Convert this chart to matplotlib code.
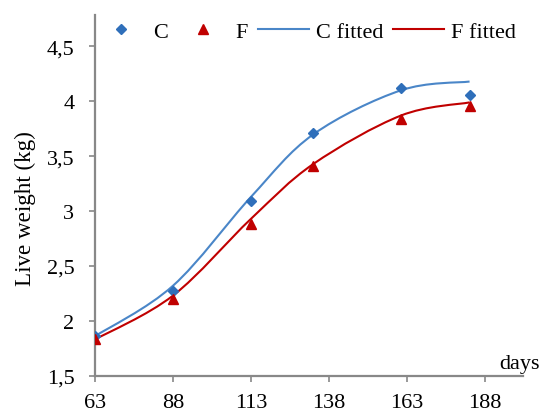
import numpy as np
import matplotlib
matplotlib.use("Agg")
import matplotlib.pyplot as plt
from matplotlib.path import Path
from matplotlib.patches import PathPatch
from matplotlib.lines import Line2D
from matplotlib.ticker import FuncFormatter

plt.rcParams['font.family'] = ['Liberation Serif', 'DejaVu Serif']
plt.rcParams['font.size'] = 16

# measured points
days = [63, 88, 113, 133, 161, 183]
c_obs = [1.86, 2.27, 3.09, 3.71, 4.12, 4.06]
f_obs = [1.83, 2.20, 2.88, 3.41, 3.84, 3.96]

# fitted values (at the same days)
c_fit = [1.86, 2.32, 3.13, 3.70, 4.10, 4.18]
f_fit = [1.83, 2.23, 2.93, 3.43, 3.87, 3.99]

x_ticks = [63, 88, 113, 138, 163, 188]
y_ticks = [1.5, 2, 2.5, 3, 3.5, 4, 4.5]

blue_pt = '#2F6FBA'
blue_ln = '#4A86C8'
red = '#C00000'
grey = '#888888'


def smooth_path(xs, ys):
    # excel style smoothed line: cubic bezier through the points
    p = np.column_stack([xs, ys]).astype(float)
    ext = np.vstack([p[0], p, p[-1]])
    verts = [p[0]]
    codes = [Path.MOVETO]
    for i in range(len(p) - 1):
        p0, p1, p2, p3 = ext[i], ext[i + 1], ext[i + 2], ext[i + 3]
        c1 = p1 + (p2 - p0) / 6.0
        c2 = p2 - (p3 - p1) / 6.0
        verts += [c1, c2, p2]
        codes += [Path.CURVE4] * 3
    return Path(verts, codes)


fig = plt.figure(figsize=(5.44, 4.14), dpi=100)
ax = fig.add_axes([0.1746, 0.0901, 0.7861, 0.8722])

ax.add_patch(PathPatch(smooth_path(days, c_fit), fill=False, edgecolor=blue_ln, lw=1.5, zorder=2))
ax.add_patch(PathPatch(smooth_path(days, f_fit), fill=False, edgecolor=red, lw=1.5, zorder=2))
ax.plot(days, c_obs, ls='none', marker='D', ms=5.5, color=blue_pt, zorder=3)
ax.plot(days, f_obs, ls='none', marker='^', ms=7.5, color=red, zorder=3)

ax.set_xlim(63, 200)
ax.set_ylim(1.5, 4.79)
ax.set_xticks(x_ticks)
ax.set_yticks(y_ticks)
ax.yaxis.set_major_formatter(FuncFormatter(lambda v, p: ('%g' % v).replace('.', ',')))

for s in ['top', 'right']:
    ax.spines[s].set_visible(False)
for s in ['left', 'bottom']:
    ax.spines[s].set_color(grey)
    ax.spines[s].set_linewidth(1.6)
ax.tick_params(direction='out', length=4.3, width=1.2, color=grey)
ax.tick_params(axis='x', pad=8.5)
ax.tick_params(axis='y', pad=10.5)

ax.set_ylabel('Live weight (kg)', fontsize=16.6)
ax.yaxis.set_label_coords(-0.138, 0.467)
ax.text(1.04, 0.02, 'days', transform=ax.transAxes, ha='right', va='baseline')

handles = [
    Line2D([], [], ls='none', marker='D', ms=5, color=blue_pt),
    Line2D([], [], ls='none', marker='^', ms=7, color=red),
    Line2D([], [], color=blue_ln, lw=1.5),
    Line2D([], [], color=red, lw=1.5),
]
ax.legend(handles, ['C', 'F', 'C fitted', 'F fitted'], ncol=4, frameon=False,
          loc='center left', bbox_to_anchor=(0.0, 0.952), borderaxespad=0, borderpad=0,
          handlelength=2.3, handletextpad=0.3, columnspacing=0.45)

fig.savefig('out.png', dpi=100)
